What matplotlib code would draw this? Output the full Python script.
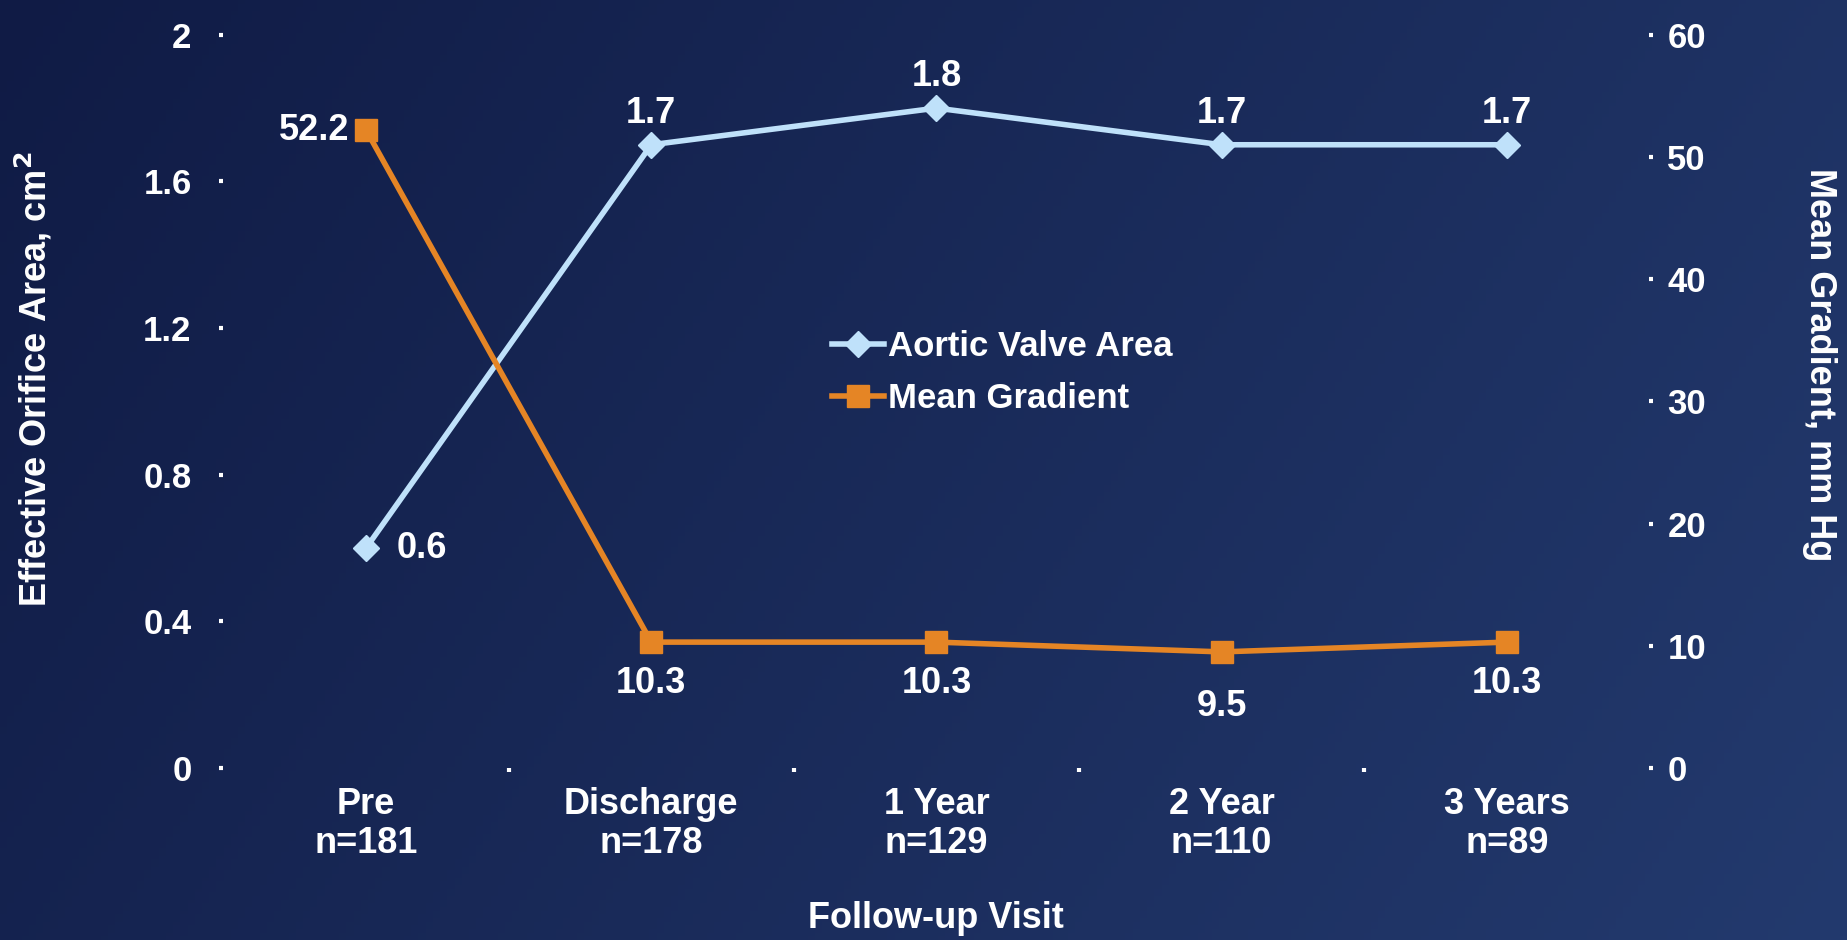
import matplotlib
matplotlib.use("Agg")
import matplotlib.pyplot as plt
import numpy as np

# data
visits = ["Pre", "Discharge", "1 Year", "2 Year", "3 Years"]
n_pts = [181, 178, 129, 110, 89]
ava = [0.6, 1.7, 1.8, 1.7, 1.7]
gradient = [52.2, 10.3, 10.3, 9.5, 10.3]

ava_col = "#bfe1fa"
mg_col = "#e58525"

plt.rcParams['font.family'] = ['Liberation Sans', 'DejaVu Sans']
plt.rcParams['font.weight'] = 'bold'
plt.rcParams['axes.labelweight'] = 'bold'

fig = plt.figure(figsize=(18.47, 9.4), dpi=100)

# background gradient
bg = fig.add_axes([0, 0, 1, 1])
xx = np.linspace(0, 1, 256)
yy = np.linspace(0, 1, 256)
X, Y = np.meshgrid(xx, yy)
t = 0.75 * X + 0.25 * Y
c0 = np.array([0x10, 0x1b, 0x45]) / 255
c1 = np.array([0x23, 0x3a, 0x6e]) / 255
img = c0[None, None, :] * (1 - t[..., None]) + c1[None, None, :] * t[..., None]
bg.imshow(img, aspect='auto', extent=[0, 1, 0, 1], origin='upper')
bg.axis('off')

ax = fig.add_axes([0.121, 0.183, 0.772, 0.78])
ax.patch.set_alpha(0)
ax2 = ax.twinx()

x = np.arange(len(visits))
l1, = ax.plot(x, ava, color=ava_col, lw=4, marker='D', ms=13, label='Aortic Valve Area', zorder=3)
l2, = ax2.plot(x, gradient, color=mg_col, lw=4, marker='s', ms=16, label='Mean Gradient', zorder=3)

ax.set_xlim(-0.5, 4.5)
ax.set_ylim(0, 2)
ax2.set_ylim(0, 60)
ax.set_yticks([0, 0.4, 0.8, 1.2, 1.6, 2])
ax.set_yticklabels(["0", "0.4", "0.8", "1.2", "1.6", "2"])
ax2.set_yticks(range(0, 61, 10))

ax.set_xticks(x)
ax.set_xticklabels([f"{v}\nn={n}" for v, n in zip(visits, n_pts)], fontsize=26, color='white', linespacing=1.15)
ax.set_xticks(x[:-1] + 0.5, minor=True)
ax.tick_params(axis='x', which='major', length=0, pad=14)
ax.tick_params(axis='x', which='minor', length=3, width=3, color='white', direction='out')
ax.tick_params(axis='y', length=3, width=3, color='white', labelsize=25, labelcolor='white', pad=20)
ax2.tick_params(axis='y', length=3, width=3, color='white', labelsize=25, labelcolor='white', pad=10)

for a in (ax, ax2):
    for s in a.spines.values():
        s.set_visible(False)

ax.set_xlabel("Follow-up Visit", fontsize=26, color='white', va='center')
ax.xaxis.set_label_coords(0.5, -0.205)
ax.set_ylabel("Effective Orifice Area, cm$^\\mathbf{2}$", fontsize=26, color='white', va='center')
ax.yaxis.set_label_coords(-0.133, 0.53)
ax2.set_ylabel("Mean Gradient, mm Hg", fontsize=26, color='white', rotation=270, va='center')
ax2.yaxis.set_label_coords(1.119, 0.55)

# data labels
ax.annotate(f"{ava[0]}", (x[0], ava[0]), xytext=(22, 0), textcoords='offset points',
            ha='left', va='center', fontsize=26, color='white')
for i in range(1, len(x)):
    ax.annotate(f"{ava[i]}", (x[i], ava[i]), xytext=(0, 10), textcoords='offset points',
                ha='center', va='bottom', fontsize=26, color='white')
ax2.annotate(f"{gradient[0]}", (x[0], gradient[0]), xytext=(-12, 0), textcoords='offset points',
             ha='right', va='center', fontsize=26, color='white')
for i in range(1, len(x)):
    off = -17 if gradient[i] >= 10 else -27
    ax2.annotate(f"{gradient[i]}", (x[i], gradient[i]), xytext=(0, off), textcoords='offset points',
                 ha='center', va='top', fontsize=26, color='white')

leg = ax.legend(handles=[l1, l2], loc='upper left', bbox_to_anchor=(0.405, 0.64),
                frameon=False, fontsize=25, labelcolor='white', handlelength=1.5,
                handletextpad=0.1, labelspacing=0.55)

fig.savefig("out.png", dpi=100)
